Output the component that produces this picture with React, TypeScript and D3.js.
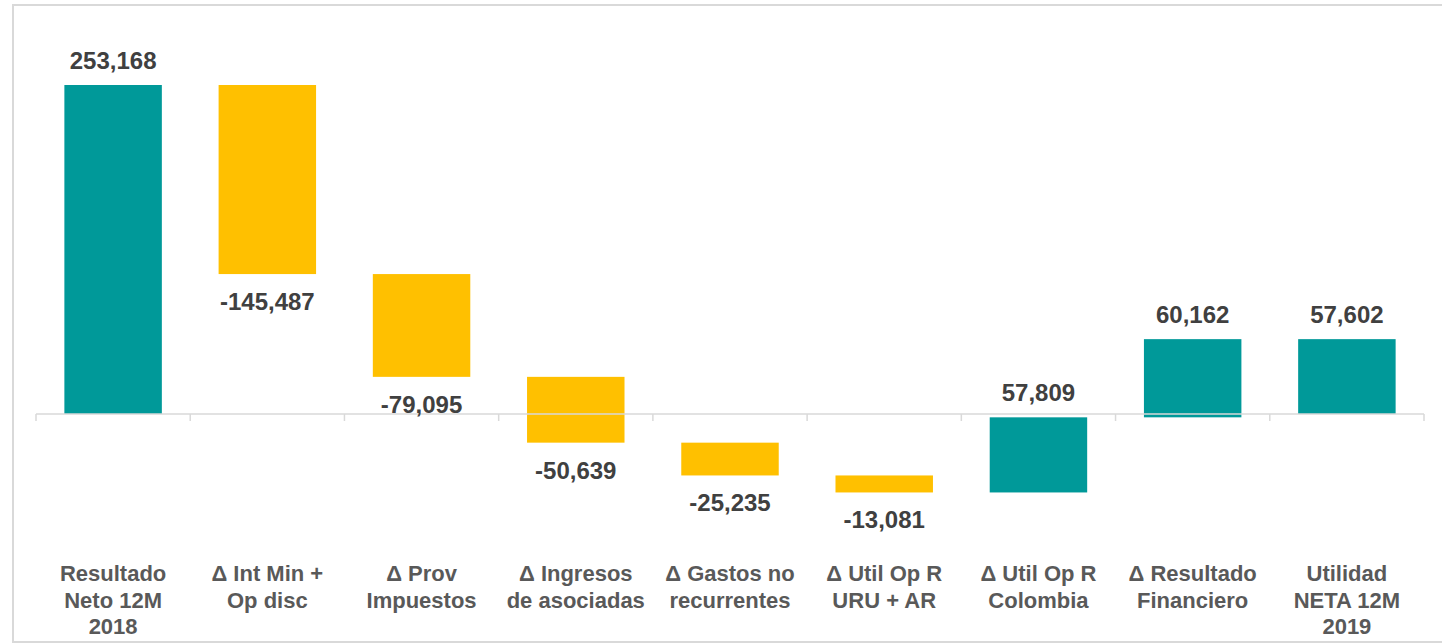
import React from "react";
import * as d3 from "d3";

const categories: string[][] = [
  ["Resultado", "Neto 12M", "2018"],
  ["Δ Int Min +", "Op disc"],
  ["Δ Prov", "Impuestos"],
  ["Δ Ingresos", "de asociadas"],
  ["Δ Gastos no", "recurrentes"],
  ["Δ Util Op R", "URU + AR"],
  ["Δ Util Op R", "Colombia"],
  ["Δ Resultado", "Financiero"],
  ["Utilidad", "NETA 12M", "2019"],
];
const values: number[] = [253168, -145487, -79095, -50639, -25235, -13081, 57809, 60162, 57602];
const isTotal: boolean[] = [true, false, false, false, false, false, false, false, true];

const W = 1442;
const H = 644;
const TEAL = "#009999";
const YELLOW = "#FFC000";

const fmt = d3
  .formatLocale({ decimal: ".", thousands: ",", grouping: [3], currency: ["$", ""], minus: "-" })
  .format(",");

export default function App() {
  const keys = categories.map((_, i) => String(i));
  const x = d3.scaleBand<string>().domain(keys).range([36, 1424]).paddingInner(0.368).paddingOuter(0.184);
  const y = d3.scaleLinear().domain([0, 253168]).range([414, 85]);
  const step = x.step();

  let running = 0;
  const bars = values.map((v, i) => {
    let start: number, end: number;
    if (isTotal[i]) {
      start = 0;
      end = v;
      running = v;
    } else {
      start = running;
      end = running + v;
      running = end;
    }
    return { i, v, start, end, lo: Math.min(start, end), hi: Math.max(start, end) };
  });

  const x0 = x.range()[0];
  const ticks = d3.range(categories.length + 1).map((i) => x0 + i * step);
  const font = "'Liberation Sans', Arial, sans-serif";

  return (
    <div style={{ position: "absolute", left: 0, top: 0 }}>
      <svg width={W} height={H} style={{ display: "block" }}>
        <rect x={0} y={0} width={W} height={H} fill="#ffffff" />
        <rect x={13} y={5} width={1440} height={637} fill="none" stroke="#d9d9d9" strokeWidth={2} />
        {bars.map((b) => (
          <rect
            key={b.i}
            x={x(String(b.i))}
            width={x.bandwidth()}
            y={y(b.hi)}
            height={y(b.lo) - y(b.hi)}
            fill={b.v >= 0 ? TEAL : YELLOW}
          />
        ))}
        <line x1={ticks[0]} x2={ticks[ticks.length - 1]} y1={y(0)} y2={y(0)} stroke="#d9d9d9" strokeWidth={1.5} />
        {ticks.map((t, i) => (
          <line key={i} x1={t} x2={t} y1={y(0)} y2={y(0) + 7} stroke="#d9d9d9" strokeWidth={1.5} />
        ))}
        {bars.map((b) => {
          const cx = (x(String(b.i)) as number) + x.bandwidth() / 2;
          const ty = b.v >= 0 ? y(b.hi) - 16 : y(b.lo) + 36;
          return (
            <text
              key={"l" + b.i}
              x={cx}
              y={ty}
              textAnchor="middle"
              fontFamily={font}
              fontWeight="bold"
              fontSize={24}
              fill="#404040"
            >
              {fmt(b.v)}
            </text>
          );
        })}
        {categories.map((lines, i) => {
          const cx = (x(String(i)) as number) + x.bandwidth() / 2;
          return (
            <text
              key={"c" + i}
              textAnchor="middle"
              fontFamily={font}
              fontWeight="bold"
              fontSize={22}
              fill="#595959"
            >
              {lines.map((ln, j) => (
                <tspan key={j} x={cx} y={581 + j * 26.5}>
                  {ln}
                </tspan>
              ))}
            </text>
          );
        })}
      </svg>
    </div>
  );
}
